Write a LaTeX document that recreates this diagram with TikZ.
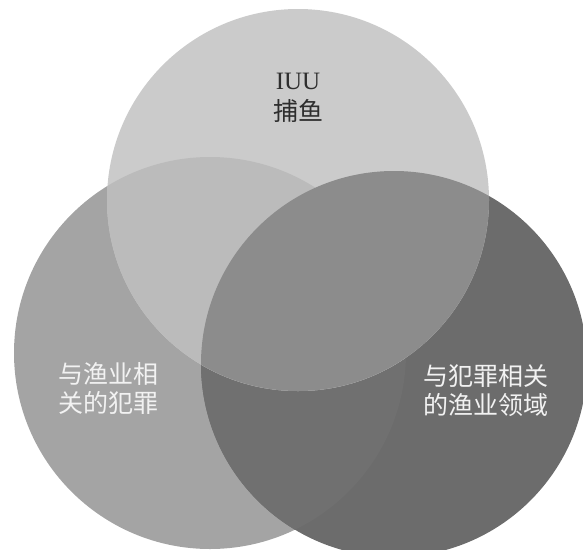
\documentclass[tikz,border=0pt]{standalone}
\usepackage{fontspec}
\setmainfont{Liberation Serif}
\newfontfamily\cjk{Noto Sans CJK SC}
\definecolor{cT}{gray}{0.795}
\definecolor{cL}{gray}{0.645}
\definecolor{cR}{gray}{0.425}
\definecolor{cTL}{gray}{0.735}
\definecolor{cTR}{gray}{0.55}
\definecolor{cLR}{gray}{0.44}
\definecolor{darktext}{gray}{0.18}
\definecolor{lighttext}{gray}{0.95}
\begin{document}
\begin{tikzpicture}[x=1pt,y=-1pt,
  region/.style={draw=none},
  lbl/.style={align=center,inner sep=0pt,font=\fontsize{25}{29}\selectfont},
  darklbl/.style={lbl,text=darktext,font=\fontsize{25}{31}\selectfont},
  lightlbl/.style={lbl,text=lighttext}]
\useasboundingbox (0,0) rectangle (583,549);
\clip (0,0) rectangle (583,549);
\def\Tcirc{(298,200) circle[radius=191pt]}
\def\Lcirc{(210,353) circle[radius=196pt]}
\def\Rcirc{(394,364) circle[radius=193pt]}
% left and right circles
\fill[region,cL] \Lcirc;
\fill[region,cR] \Rcirc;
\begin{scope}
  \clip \Lcirc;
  \fill[region,cLR] \Rcirc;
\end{scope}
% top circle and its overlaps
\fill[region,cT] \Tcirc;
\begin{scope}
  \clip \Tcirc;
  \fill[region,cTL] \Lcirc;
  \fill[region,cTR] \Rcirc;
\end{scope}
% labels
\node[darklbl] (iuu) at (298,98) {IUU\\{\cjk 捕鱼}};
\node[lightlbl] (crime) at (108,389) {\cjk 与渔业相\\\cjk 关的犯罪};
\node[lightlbl] (fish) at (486,391) {\cjk 与犯罪相关\\\cjk 的渔业领域};
\end{tikzpicture}
\end{document}
